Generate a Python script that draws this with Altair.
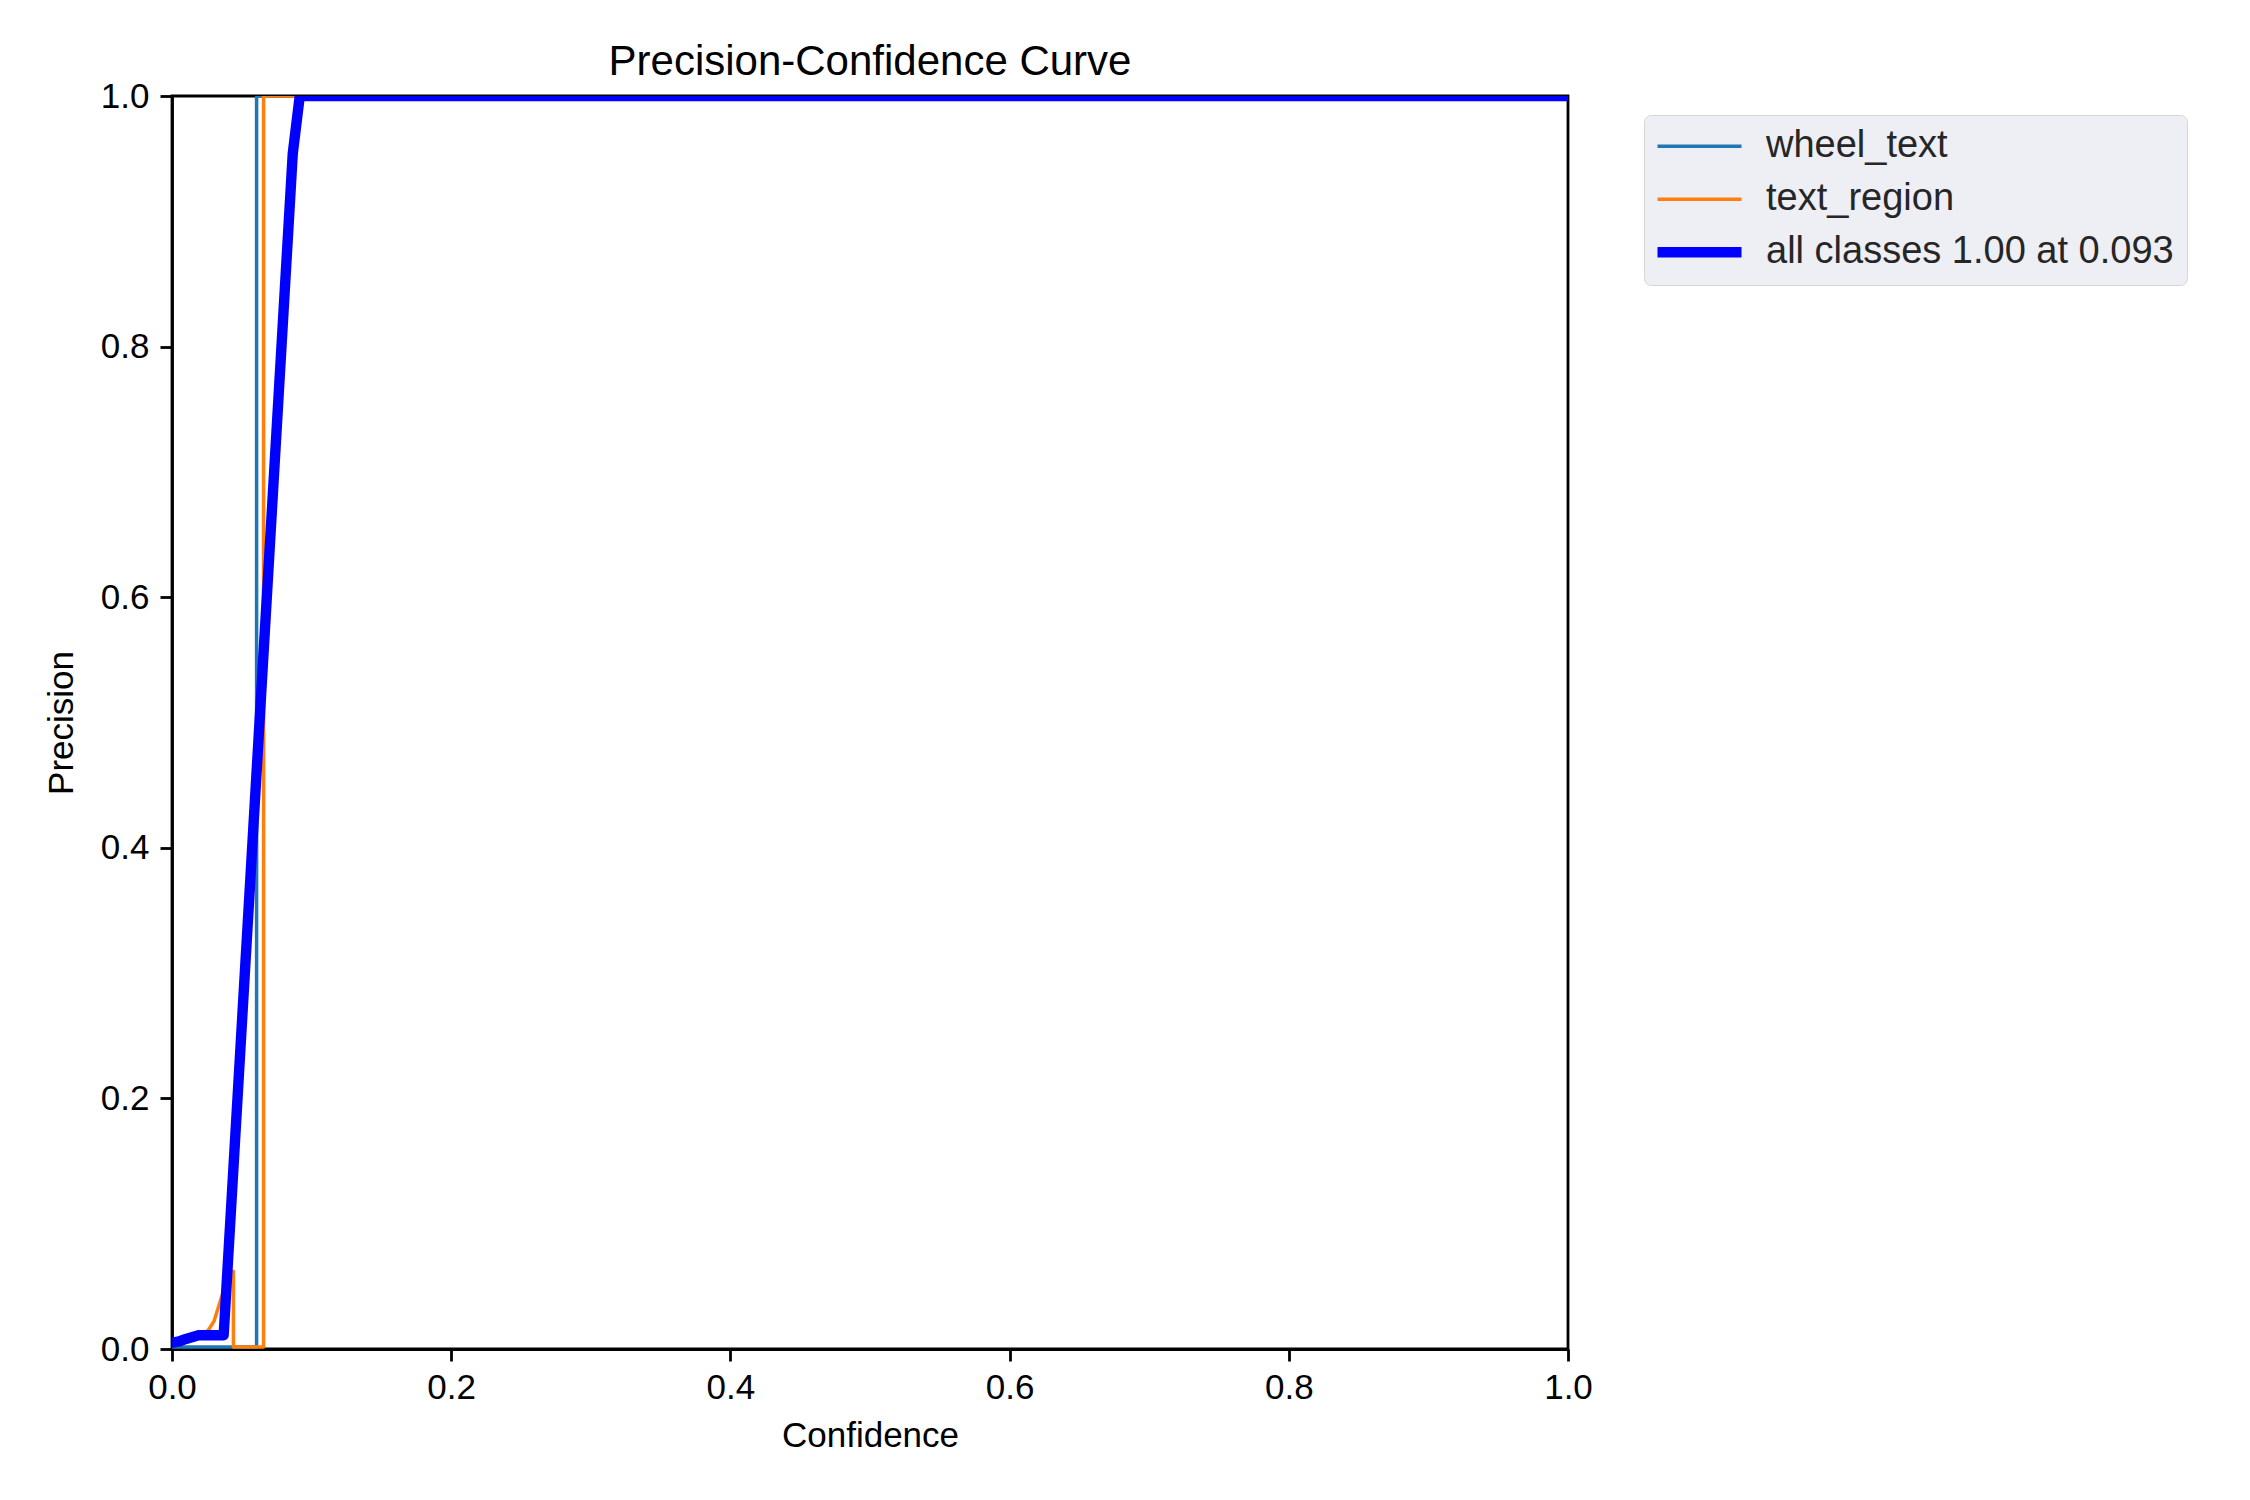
import altair as alt
import pandas as pd

# ---- data ----
series_names = ["wheel_text", "text_region", "all classes 1.00 at 0.093"]
series_colors = ["#1f77b4", "#ff7f0e", "#0000ff"]
series_widths = [3.5, 3.5, 10.4]

wheel_x = [0.0, 0.0606, 0.0606, 1.0]
wheel_y = [0.0015, 0.0015, 1.0, 1.0]

region_x = [0.0, 0.010, 0.020, 0.026, 0.030, 0.034, 0.038, 0.044, 0.044, 0.0656, 0.0656, 1.0]
region_y = [0.004, 0.006, 0.010, 0.015, 0.022, 0.036, 0.050, 0.062, 0.0015, 0.0015, 1.0, 1.0]

all_x = [0.0, 0.005, 0.010, 0.019, 0.037, 0.0865, 0.0915, 1.0]
all_y = [0.005, 0.006, 0.008, 0.011, 0.011, 0.954, 1.0, 1.0]

x_ticks = [0.0, 0.2, 0.4, 0.6, 0.8, 1.0]
y_ticks = [0.0, 0.2, 0.4, 0.6, 0.8, 1.0]

rows = []
for name, xs, ys in zip(series_names, [wheel_x, region_x, all_x], [wheel_y, region_y, all_y]):
    for i, (xv, yv) in enumerate(zip(xs, ys)):
        rows.append({"series": name, "conf": xv, "precision": yv, "idx": i})
df = pd.DataFrame(rows)

FONT = "Liberation Sans"

legend = alt.Legend(
    orient="none", legendX=1472, legendY=19, symbolType="stroke",
    symbolSize=7056, labelOffset=19, rowPadding=14, padding=13,
    clipHeight=36.5, symbolOffset=-5,
    labelFontSize=38, labelFont=FONT, labelColor="#262626",
    fillColor="#EEEEF5", strokeColor="#d6d6d6", cornerRadius=7,
    labelLimit=800,
)

color_enc = alt.Color(
    "series:N",
    scale=alt.Scale(type="ordinal", domain=series_names, range=series_colors),
    title=None,
    legend=legend,
)
width_enc = alt.StrokeWidth(
    "series:N",
    scale=alt.Scale(type="ordinal", domain=series_names, range=series_widths),
    title=None,
    legend=legend,
)

x_enc = alt.X(
    "conf:Q",
    scale=alt.Scale(domain=[0, 1], nice=False),
    axis=alt.Axis(values=x_ticks, format=".1f", title="Confidence", labelPadding=9,
                  titlePadding=13, grid=False, labelFlush=False),
)
y_enc = alt.Y(
    "precision:Q",
    scale=alt.Scale(domain=[0, 1], nice=False),
    axis=alt.Axis(values=y_ticks, format=".1f", title="Precision", labelPadding=11,
                  titlePadding=21, grid=False, labelFlush=False),
)

base = alt.Chart(df).mark_line(clip=True, strokeCap="square", strokeJoin="round").encode(
    x=x_enc, y=y_enc, color=color_enc, strokeWidth=width_enc, order="idx:Q"
)

thin = base.transform_filter(alt.datum.series != series_names[2])
thick = base.transform_filter(alt.datum.series == series_names[2])

chart = alt.layer(thin, thick).properties(
    width=1396,
    height=1253,
    title=alt.Title("Precision-Confidence Curve", fontSize=42, font=FONT,
                    fontWeight="normal", color="black", offset=-5),
    autosize=alt.AutoSizeParams(type="none"),
    padding={"left": 164, "top": 88, "right": 674, "bottom": 143},
    background="white",
).configure_view(
    stroke="black", strokeWidth=2.8
).configure_axis(
    domainColor="black", domainWidth=2.8, tickColor="black", tickWidth=2.8,
    tickSize=12, labelFont=FONT, labelFontSize=35, labelColor="black",
    titleFont=FONT, titleFontSize=35, titleColor="black", titleFontWeight="normal",
)

chart.save("out.html", embed_options={"renderer": "svg", "actions": False})
